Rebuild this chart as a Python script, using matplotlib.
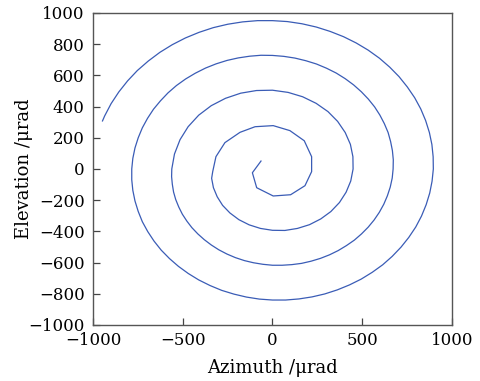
import matplotlib
matplotlib.use('Agg')
import matplotlib.pyplot as plt

# spiral path, centre -> outside (urad), one list per turn
inner_az = [-64, -112, -88, 4, 101, 181, 218, 218, 177, 97, 4, -97, -181, -265, -315, -333]
inner_el = [51, -24, -120, -173, -165, -107, -17, 79, 181, 246, 278, 271, 235, 169, 79, -17]

turn2_az = [-339, -329, -308, -278, -237, -187, -130, -67, 0, 69, 139, 206, 269, 325, 373, 410,
            436, 449, 448, 434, 405, 363, 309, 243, 168, 87, 0, -89, -177, -262, -341, -411,
            -470, -515, -546, -561]
turn2_el = [-60, -120, -178, -233, -282, -325, -358, -381, -393, -394, -381, -357, -320, -273, -215, -149,
            -77, 0, 79, 158, 234, 305, 368, 421, 463, 491, 505, 503, 486, 453, 406, 345,
            271, 188, 96, 0]

turn3_az = [-562, -558, -551, -539, -522, -502, -477, -449, -416, -380, -341, -299, -254, -207, -157, -106,
            -53, 0, 54, 108, 162, 215, 267, 318, 366, 412, 456, 496, 533, 566, 595, 620,
            640, 656, 667, 672, 673, 668, 658, 644, 623, 598, 569, 534, 495, 452, 405, 355,
            301, 245, 186, 125, 63, 0, -64, -127, -191, -253, -314, -373, -430, -484, -535, -582,
            -624, -663, -696, -725, -748, -766, -778, -784]
turn3_el = [-49, -98, -148, -196, -244, -290, -334, -376, -416, -453, -487, -518, -545, -568, -587, -601,
            -611, -617, -617, -613, -605, -591, -573, -550, -523, -491, -456, -416, -373, -327, -278, -226,
            -172, -116, -58, 0, 59, 118, 176, 234, 291, 346, 398, 448, 495, 539, 579, 615,
            646, 673, 694, 711, 722, 728, 729, 723, 712, 696, 674, 647, 614, 577, 535, 488,
            437, 383, 325, 264, 200, 135, 68, 0]

turn4_az = [-784, -778, -766, -748, -725, -695, -660, -620, -574, -524, -469, -411, -348, -283, -215, -145,
            -73, 0, 73, 147, 220, 291, 361, 429, 494, 556, 614, 667, 716, 759, 798, 830,
            856, 876, 889, 896, 895, 888, 874, 853, 826, 792, 751, 705, 653, 596, 533, 466,
            396, 321, 244, 164, 83, 0, -83, -166, -249, -330, -409, -485, -558, -627, -692, -753,
            -807, -856, -899, -935, -947]
turn4_el = [-69, -137, -205, -272, -338, -401, -462, -520, -574, -624, -670, -711, -747, -778, -802, -821,
            -834, -840, -840, -833, -820, -801, -775, -743, -706, -662, -614, -560, -501, -439, -372, -302,
            -229, -154, -78, 0, 78, 157, 234, 311, 385, 457, 526, 592, 653, 710, 762, 808,
            848, 882, 910, 931, 945, 951, 951, 943, 928, 906, 876, 840, 797, 748, 692, 631,
            565, 494, 419, 340, 308]

xticks = [-1000, -500, 0, 500, 1000]
yticks = [-1000, -800, -600, -400, -200, 0, 200, 400, 600, 800, 1000]

azimuth = inner_az + turn2_az + turn3_az + turn4_az
elevation = inner_el + turn2_el + turn3_el + turn4_el

plt.rcParams['font.family'] = ['DejaVu Serif']

fig = plt.figure(figsize=(4.81, 3.81), dpi=100)
ax = fig.add_axes([0.1933, 0.147, 0.7464, 0.8189])
ax.plot(azimuth, elevation, color='#3a5cb6', linewidth=0.9)

ax.set_xlim(-1000, 1000)
ax.set_ylim(-1000, 1000)
ax.set_xticks(xticks)
ax.set_yticks(yticks)
ax.set_xticklabels([str(t).replace('-', '\u2212') for t in xticks])
ax.set_yticklabels([str(t).replace('-', '\u2212') for t in yticks])
ax.tick_params(direction='in', length=5, width=0.9, color='#444444', labelsize=12,
               top=False, right=False)
ax.tick_params(axis='x', pad=5)
ax.tick_params(axis='y', pad=6)
for s in ax.spines.values():
    s.set_color('#555555')
    s.set_linewidth(1.0)

ax.set_xlabel('Azimuth /\u03bcrad', fontsize=13)
ax.set_ylabel('Elevation /\u03bcrad', fontsize=13)
ax.xaxis.set_label_coords(0.5, -0.108)
ax.yaxis.set_label_coords(-0.167, 0.5)

fig.savefig('out.png', dpi=100)
